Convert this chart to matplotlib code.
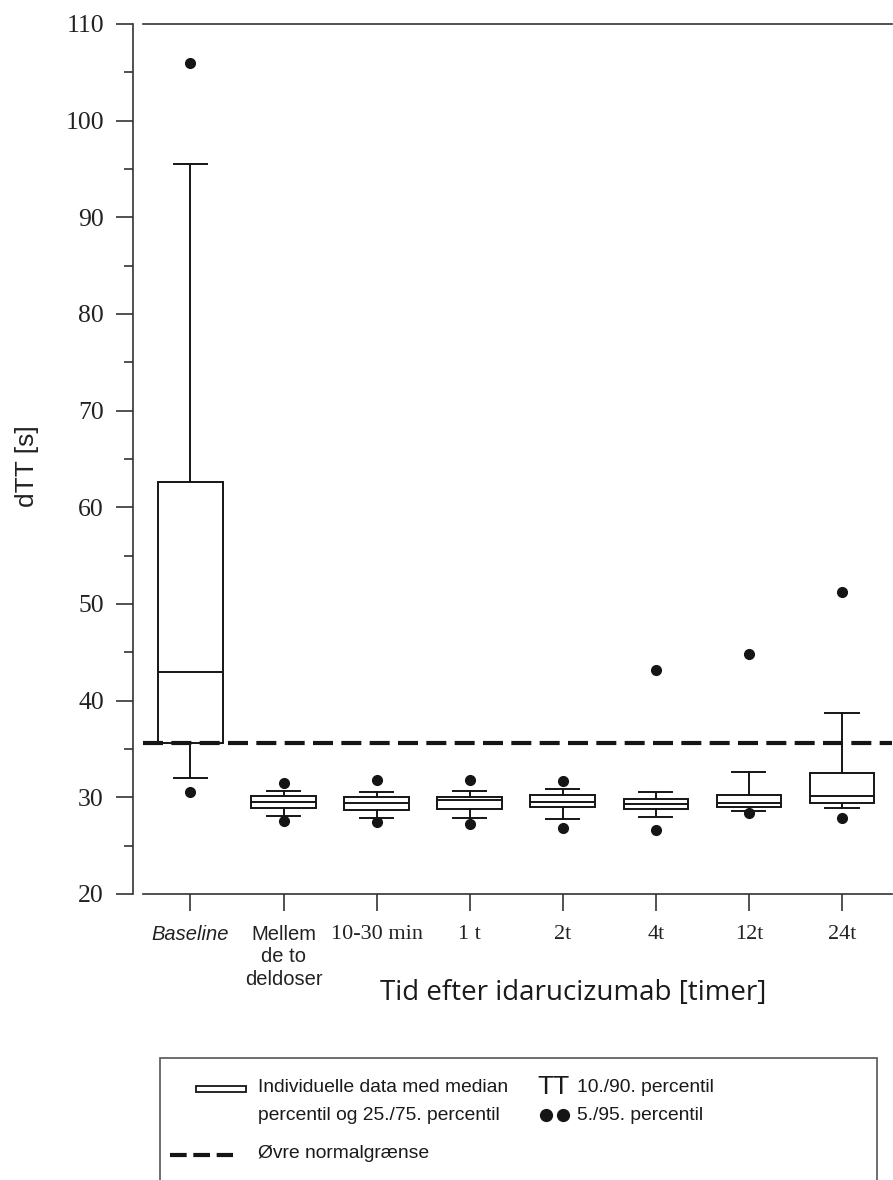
import matplotlib
matplotlib.use("Agg")
import matplotlib.pyplot as plt
from matplotlib import font_manager
from matplotlib.patches import Rectangle
from matplotlib.lines import Line2D
from matplotlib.ticker import MultipleLocator

# ---------------- data ----------------
categories = ["Baseline", "Mellem\nde to\ndeldoser", "10-30 min", "1 t", "2t", "4t", "12t", "24t"]
p5 = [30.6, 27.6, 27.5, 27.2, 26.8, 26.6, 28.4, 27.9]
p10 = [32.0, 28.1, 27.9, 27.9, 27.8, 28.0, 28.6, 28.9]
p25 = [35.6, 28.9, 28.7, 28.8, 29.0, 28.8, 29.0, 29.4]
median = [43.0, 29.5, 29.4, 29.7, 29.5, 29.3, 29.4, 30.1]
p75 = [62.6, 30.1, 30.0, 30.0, 30.2, 29.8, 30.2, 32.5]
p90 = [95.5, 30.7, 30.6, 30.7, 30.9, 30.6, 32.6, 38.7]
p95 = [106.0, 31.5, 31.8, 31.8, 31.7, 43.2, 44.8, 51.2]
normal_limit = 35.6
y_ticks = [20, 30, 40, 50, 60, 70, 80, 90, 100, 110]

# ---------------- fonts ----------------
names = set(font_manager.get_font_names())
if "Liberation Sans Narrow" in names:
    NARROW, TICK_N, LEG_N = "Liberation Sans Narrow", 16, 16.5
else:
    NARROW, TICK_N, LEG_N = "Liberation Sans", 14.5, 13.9
SERIF = "Liberation Serif"
SANS = "Liberation Sans"

W, H = 893, 1180
fig = plt.figure(figsize=(W / 100, H / 100), dpi=100)
ax = fig.add_axes([143 / W, 1 - 894 / H, 749 / W, 870 / H])

def fx(x):
    return x / W

def fy(y):
    return 1 - y / H

LC = "#151515"
stats = []
for i in range(len(categories)):
    stats.append(dict(med=median[i], q1=p25[i], q3=p75[i],
                      whislo=p10[i], whishi=p90[i],
                      fliers=[p5[i], p95[i]], label=categories[i]))

ax.axhline(normal_limit, color=LC, lw=3.0, dashes=(4.8, 2.0), zorder=3)

ax.bxp(stats, positions=list(range(len(categories))), widths=0.695,
       capwidths=0.355, showfliers=True, patch_artist=True,
       boxprops=dict(facecolor="white", edgecolor=LC, linewidth=1.4),
       medianprops=dict(color=LC, linewidth=1.4),
       whiskerprops=dict(color=LC, linewidth=1.4),
       capprops=dict(color=LC, linewidth=1.4),
       flierprops=dict(marker="o", markerfacecolor=LC, markeredgecolor=LC,
                       markersize=7))

ax.set_xlim(-0.51, 7.537)
ax.set_ylim(20, 110)

# spines
for s in ["left", "bottom", "top"]:
    ax.spines[s].set_linewidth(1.2)
    ax.spines[s].set_color("#333333")
ax.spines["right"].set_visible(False)
ax.spines["left"].set_position(("outward", 7.2))

ax.yaxis.set_major_locator(MultipleLocator(10))
ax.yaxis.set_minor_locator(MultipleLocator(5))
ax.set_yticks(y_ticks)
ax.tick_params(axis="y", which="major", length=12, width=1.2, color="#333333",
               pad=9, labelsize=18.5, direction="out")
ax.tick_params(axis="y", which="minor", length=6.5, width=1.2, color="#333333",
               direction="out")
for t in ax.get_yticklabels():
    t.set_fontfamily(SERIF)
    t.set_color("#222222")

ax.set_xticks(list(range(len(categories))))
ax.set_xticklabels(categories)
ax.tick_params(axis="x", which="major", length=12, width=1.2, color="#333333",
               pad=10, direction="out")
ax.tick_params(axis="x", which="minor", bottom=False)
for i, t in enumerate(ax.get_xticklabels()):
    t.set_color("#222222")
    if i == 0:
        t.set_fontfamily(NARROW)
        t.set_fontstyle("italic")
        t.set_fontsize(TICK_N)
    elif i == 1:
        t.set_fontfamily(NARROW)
        t.set_fontsize(TICK_N)
        t.set_linespacing(1.25)
    else:
        t.set_fontfamily(SERIF)
        t.set_fontsize(16)

ax.set_ylabel("dTT [s]", fontsize=19, family=SANS, color="#222222")
ax.yaxis.set_label_coords((39 - 143) / 749, (894 - 466) / 870)

fig.text(fx(573), fy(993), "Tid efter idarucizumab [timer]", ha="center",
         va="center", fontsize=20, family="Open Sans", color="#1a1a1a")

# ---------------- legend ----------------
fig.add_artist(Rectangle((fx(160), fy(1240)), (877 - 160) / W, (1240 - 1058) / H,
                         transform=fig.transFigure, facecolor="none",
                         edgecolor="#555555", linewidth=1.2))
fig.add_artist(Rectangle((fx(196), fy(1092)), 50 / W, 6 / H,
                         transform=fig.transFigure, facecolor="white",
                         edgecolor=LC, linewidth=1.3))
fig.add_artist(Line2D([fx(170), fx(233)], [fy(1155), fy(1155)],
                      transform=fig.transFigure, color=LC, lw=3.0,
                      dashes=(4.0, 1.6)))
lt = dict(fontsize=LEG_N, family=NARROW, color="#1a1a1a", va="center", ha="left")
fig.text(fx(258), fy(1088), "Individuelle data med median", **lt)
fig.text(fx(258), fy(1116), "percentil og 25./75. percentil", **lt)
fig.text(fx(258), fy(1154), "Øvre normalgrænse", **lt)
fig.text(fx(577), fy(1088), "10./90. percentil", **lt)
fig.text(fx(577), fy(1115), "5./95. percentil", **lt)
fig.text(fx(537), fy(1087), "TT", fontsize=19, family=SANS, color="#1a1a1a",
         va="center", ha="left")
fig.add_artist(Line2D([fx(546), fx(563)], [fy(1115), fy(1115)],
                      transform=fig.transFigure, linestyle="none", marker="o",
                      markersize=8.5, markerfacecolor=LC, markeredgecolor=LC))

fig.savefig("out.png", dpi=100)
